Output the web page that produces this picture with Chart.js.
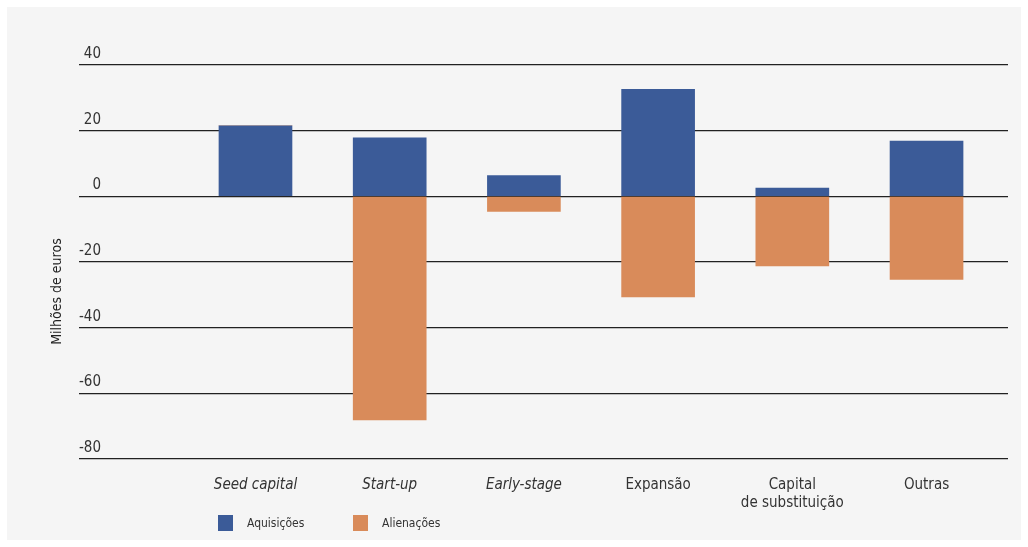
<!DOCTYPE html>
<html>
<head>
<meta charset="utf-8">
<script src="https://cdn.jsdelivr.net/npm/chart.js@4"></script>
<style>
  html, body { margin: 0; padding: 0; background: #fff; }
  #panel { position: absolute; left: 7px; top: 7px; width: 1014px; height: 533px; background: #f5f5f5; }
  #wrap { position: absolute; left: 0; top: 0; width: 1028px; height: 547px; }
  .leg { position: absolute; top: 515px; font: 12px 'Liberation Sans Narrow', 'DejaVu Sans Condensed', sans-serif; color: #333; }
  .leg span.box { position: absolute; left: 0; top: 0; width: 15px; height: 16px; }
  .leg span.txt { position: absolute; left: 29px; top: 1px; white-space: nowrap; }
</style>
</head>
<body>
<div id="panel"></div>
<div id="wrap"><canvas id="myChart" width="1028" height="547"></canvas></div>
<div class="leg" style="left:218px"><span class="box" style="background:#3b5b98"></span><span class="txt">Aquisições</span></div>
<div class="leg" style="left:353px"><span class="box" style="background:#d98b5a"></span><span class="txt">Alienações</span></div>
<script>
categories = [
    "Seed capital",
    "Start-up",
    "Early-stage",
    "Expansão",
    "Capital\nde substituição",
    "Outras"
]
italicCats = ["Seed capital", "Start-up", "Early-stage"]

aquisicoes = [21.5, 17.8, 6.3, 32.6, 2.5, 16.8]
alienacoes = [0, -68.1, -4.6, -30.6, -21.2, -25.3]

yTicks = [40, 20, 0, -20, -40, -60, -80]
yTitle = "Milhões de euros"

const fontFam = "'Liberation Sans Narrow', 'DejaVu Sans Condensed', sans-serif"

// y axis title sits a bit below the middle in the original, so draw it by hand
const yTitlePlugin = {
    id: 'yTitle',
    afterDraw(chart) {
        const a = chart.chartArea
        const c = chart.ctx
        c.save()
        c.translate(a.left - 22, a.top + (a.bottom - a.top) * 0.575)
        c.rotate(-Math.PI / 2)
        c.font = "14px " + fontFam
        c.fillStyle = "#222"
        c.textAlign = "center"
        c.textBaseline = "middle"
        c.fillText(yTitle, 0, 0)
        c.restore()
    }
}

function makeGraph() {
    const ctx = document.getElementById('myChart');
    new Chart(ctx, {
        type: 'bar',
        data: {
            datasets: [
                {
                    label: "Aquisições",
                    data: aquisicoes.map((v, i) => ({x: i, y: v})),
                    backgroundColor: "#3b5b98",
                    barThickness: 73
                },
                {
                    label: "Alienações",
                    data: alienacoes.map((v, i) => ({x: i, y: v})),
                    backgroundColor: "#d98b5a",
                    barThickness: 73
                }
            ]
        },
        plugins: [yTitlePlugin],
        options: {
            responsive: false,
            animation: false,
            layout: {
                padding: {left: 79, right: 20, top: 65, bottom: 18}
            },
            scales: {
                x: {
                    type: 'linear',
                    stacked: true,
                    offset: false,
                    min: -1.315,
                    max: 5.607,
                    afterBuildTicks: (scale) => {
                        scale.ticks = categories.map((c, i) => ({value: i}))
                    },
                    grid: {display: false, drawTicks: false},
                    border: {display: false},
                    ticks: {
                        padding: 17,
                        color: "#333",
                        autoSkip: false,
                        maxRotation: 0,
                        callback: (value) => categories[value] ? categories[value].split("\n") : "",
                        font: (c) => ({
                            family: fontFam,
                            size: 15,
                            style: italicCats.includes(categories[c.index]) ? 'italic' : 'normal'
                        })
                    }
                },
                y: {
                    stacked: true,
                    min: -80,
                    max: 40,
                    afterBuildTicks: (scale) => {
                        scale.ticks = yTicks.map(v => ({value: v}))
                    },
                    grid: {color: "#222", lineWidth: 1.3, drawTicks: false},
                    border: {display: false},
                    ticks: {
                        mirror: true,
                        crossAlign: 'far',
                        padding: 0,
                        labelOffset: -11,
                        color: "#333",
                        font: {family: fontFam, size: 15}
                    }
                }
            },
            plugins: {
                legend: {display: false},
                tooltip: {enabled: false}
            }
        }
    });
}

makeGraph()
</script>
</body>
</html>
